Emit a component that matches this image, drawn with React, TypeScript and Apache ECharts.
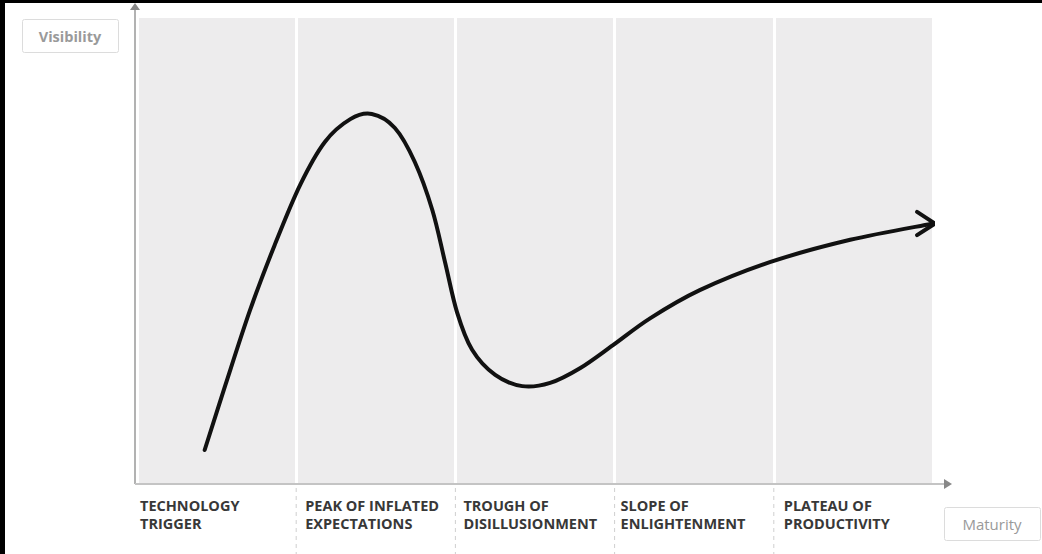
import React, { useEffect, useRef } from "react";
import * as echarts from "echarts";

const phases = [
  ["TECHNOLOGY", "TRIGGER"],
  ["PEAK OF INFLATED", "EXPECTATIONS"],
  ["TROUGH OF", "DISILLUSIONMENT"],
  ["SLOPE OF", "ENLIGHTENMENT"],
  ["PLATEAU OF", "PRODUCTIVITY"],
];
const phaseStarts = [0, 20, 40, 60, 80];
const labelPad = [3, 9, 8, 6, 10];

// hype curve points [maturity, visibility]
const curveX = [8.5, 11.1, 14.2, 17.3, 20.5, 23.6, 26.8, 29.5, 32.4, 34.9, 37.1, 38.7, 40.2, 42.1, 45.0, 48.4, 51.9, 55.7, 59.8, 64.5, 70.7, 79.5, 89.6, 99.7];
const curveY = [7.3, 21.2, 37.3, 51.3, 64.2, 73.4, 78.3, 79.4, 76.4, 69.1, 58.8, 47.6, 36.9, 28.8, 23.4, 21.0, 21.7, 24.9, 29.8, 35.6, 41.6, 47.6, 52.4, 55.8];
// arrow head (open chevron)
const arrowX = [98.0, 100.25, 98.0];
const arrowY = [58.4, 55.9, 53.4];

function smoothPath(pts: number[][]): string {
  let d = `M${pts[0][0]},${pts[0][1]}`;
  for (let i = 0; i < pts.length - 1; i++) {
    const p0 = pts[i - 1] || pts[i];
    const p1 = pts[i];
    const p2 = pts[i + 1];
    const p3 = pts[i + 2] || p2;
    const c1x = p1[0] + (p2[0] - p0[0]) / 6;
    const c1y = p1[1] + (p2[1] - p0[1]) / 6;
    const c2x = p2[0] - (p3[0] - p1[0]) / 6;
    const c2y = p2[1] - (p3[1] - p1[1]) / 6;
    d += ` C${c1x},${c1y} ${c2x},${c2y} ${p2[0]},${p2[1]}`;
  }
  return d;
}

export default function App() {
  const ref = useRef<HTMLDivElement>(null);
  useEffect(() => {
    if (!ref.current) return;
    const chart = echarts.init(ref.current, null, { renderer: "svg" });
    const rich: any = {};
    phases.forEach((_, i) => {
      rich["p" + i] = {
        fontFamily: "Open Sans",
        fontWeight: "bold",
        fontSize: 14.5,
        lineHeight: 18,
        color: "#383838",
        padding: [0, 0, 0, labelPad[i]],
      };
    });
    const curveData = curveX.map((x, i) => [x, curveY[i]]);
    chart.setOption({
      animation: false,
      backgroundColor: "#fff",
      grid: {
        left: 137,
        right: 109,
        top: 18,
        bottom: 70,
        show: true,
        backgroundColor: "#edeced",
        borderWidth: 0,
      },
      xAxis: {
        type: "value",
        min: 0,
        max: 100,
        interval: 20,
        axisLine: { show: false },
        axisTick: { show: false },
        splitLine: { show: true, lineStyle: { color: "#fff", width: 3 } },
        axisLabel: {
          margin: 12,
          align: "left",
          verticalAlign: "top",
          formatter: (v: number) => {
            const i = phaseStarts.indexOf(Math.round(v));
            if (i < 0) return "";
            return phases[i].map((t) => `{p${i}|${t}}`).join("\n");
          },
          rich,
        },
      },
      yAxis: {
        type: "value",
        min: 0,
        max: 100,
        show: false,
      },
      series: [
        {
          type: "custom",
          clip: false,
          data: curveData,
          renderItem: (params: any, api: any) => {
            if (params.dataIndex !== 0) return null;
            const pts = curveData.map((p) => api.coord(p));
            return {
              type: "path",
              shape: { pathData: smoothPath(pts) },
              style: { stroke: "#111", lineWidth: 4, fill: "none", lineCap: "round" },
            };
          },
        },
        {
          type: "line",
          data: arrowX.map((x, i) => [x, arrowY[i]]),
          symbol: "none",
          clip: false,
          lineStyle: { color: "#111", width: 4, cap: "round", join: "round" },
        },
      ],
    });

    const dashed = [20, 40, 60, 80].map((v, i) => {
      const px = chart.convertToPixel({ xAxisIndex: 0 }, v) as number;
      return {
        type: "line",
        id: "dash" + i,
        shape: { x1: px, y1: 488, x2: px, y2: 554 },
        style: { stroke: "#cfcfcf", lineWidth: 1, lineDash: [4, 4] },
      };
    });

    chart.setOption({
      graphic: [
        ...dashed,
        { type: "line", shape: { x1: 135, y1: 8, x2: 135, y2: 484 }, style: { stroke: "#999", lineWidth: 1.5 } },
        { type: "polygon", shape: { points: [[135, 3], [130, 10], [140, 10]] }, style: { fill: "#888" } },
        { type: "line", shape: { x1: 135, y1: 484, x2: 944, y2: 484 }, style: { stroke: "#c4c4c4", lineWidth: 2 } },
        { type: "polygon", shape: { points: [[952, 484], [944, 479], [944, 489]] }, style: { fill: "#888" } },
        { type: "rect", shape: { x: 22.5, y: 19.5, width: 96, height: 33, r: 2 }, style: { fill: "#fff", stroke: "#dcdcdc", lineWidth: 1 } },
        {
          type: "text",
          x: 70,
          y: 36,
          style: { text: "Visibility", fill: "#9a9a9a", fontFamily: "Open Sans", fontWeight: "bold", fontSize: 14.5, align: "center", verticalAlign: "middle" },
        },
        { type: "rect", shape: { x: 944.5, y: 507.5, width: 96, height: 33, r: 2 }, style: { fill: "#fff", stroke: "#dcdcdc", lineWidth: 1 } },
        {
          type: "text",
          x: 992,
          y: 524,
          style: { text: "Maturity", fill: "#999", fontFamily: "Open Sans", fontWeight: "normal", fontSize: 15, align: "center", verticalAlign: "middle" },
        },
        { type: "rect", shape: { x: 0, y: 0, width: 1042, height: 3 }, style: { fill: "#000" }, z: 100 },
        { type: "rect", shape: { x: 0, y: 0, width: 5, height: 554 }, style: { fill: "#000" }, z: 100 },
      ],
    });
    return () => chart.dispose();
  }, []);
  return (
    <div
      ref={ref}
      style={{ position: "fixed", left: 0, top: 0, width: 1042, height: 554 }}
    />
  );
}
